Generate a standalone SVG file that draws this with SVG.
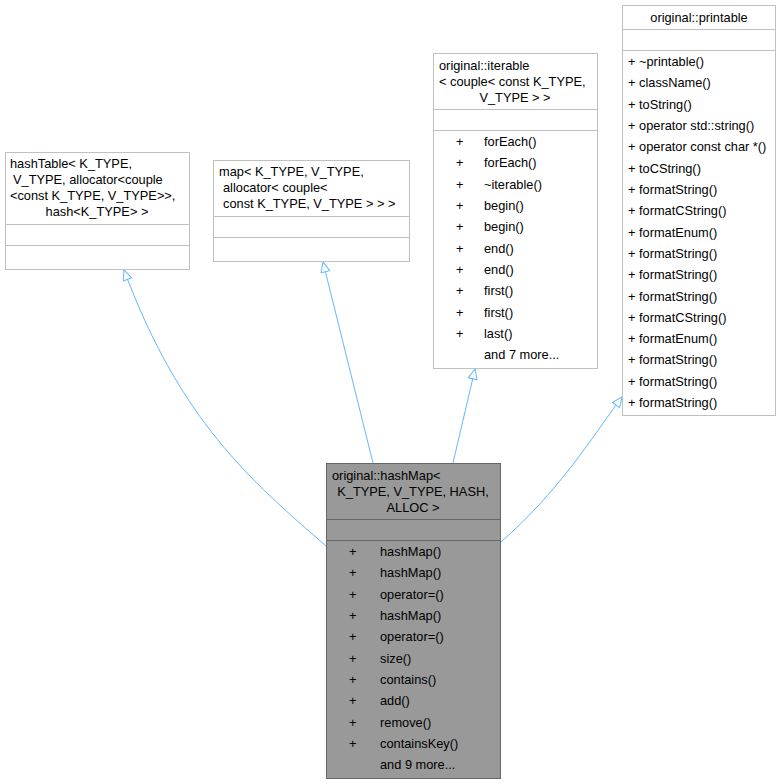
<svg xmlns="http://www.w3.org/2000/svg" width="781" height="784" viewBox="0 0 781 784">
<style>
text{font-family:"Liberation Sans",Arial,sans-serif;font-size:12.8px;fill:#000}
.b{fill:#fff;stroke:#c0c0c0;stroke-width:1}
.m{fill:#999;stroke:#666;stroke-width:1}
.e{fill:none;stroke:#63b8ff;stroke-width:1}
.c{text-anchor:middle}
</style>
<defs>
<marker id="a" viewBox="0 0 12 10" refX="11" refY="5" markerWidth="12" markerHeight="10" markerUnits="userSpaceOnUse" orient="auto">
<path d="M1,0.5 L11,5 L1,9.5 Z" fill="#fff" stroke="#63b8ff"/>
</marker>
</defs>
<rect width="781" height="784" fill="#fff"/>
<g id="connectors">
<path class="e" d="M326,546 C250,480 180,420 124,270" marker-end="url(#a)"/>
<path class="e" d="M373,463 L323,262" marker-end="url(#a)"/>
<path class="e" d="M453,463 L475,369" marker-end="url(#a)"/>
<path class="e" d="M501,542 C560,490 590,440 622,397" marker-end="url(#a)"/>
</g>
<g id="hashTable">
<rect class="b" x="5.5" y="152.5" width="184" height="117"/>
<line class="b" x1="5.5" y1="224.5" x2="189.5" y2="224.5"/>
<line class="b" x1="5.5" y1="245.5" x2="189.5" y2="245.5"/>
<text x="10" y="168">hashTable&lt; K_TYPE,</text>
<text x="13" y="184">V_TYPE, allocator&lt;couple</text>
<text x="10" y="200">&lt;const K_TYPE, V_TYPE&gt;&gt;,</text>
<text x="97" y="216" class="c">hash&lt;K_TYPE&gt; &gt;</text>
</g>
<g id="map">
<rect class="b" x="213.5" y="160.5" width="196" height="101"/>
<line class="b" x1="213.5" y1="216.5" x2="409.5" y2="216.5"/>
<line class="b" x1="213.5" y1="237.5" x2="409.5" y2="237.5"/>
<text x="219" y="176">map&lt; K_TYPE, V_TYPE,</text>
<text x="223" y="192">allocator&lt; couple&lt;</text>
<text x="223" y="208">const K_TYPE, V_TYPE &gt; &gt; &gt;</text>
</g>
<g id="iterable">
<rect class="b" x="433.5" y="53.5" width="164" height="315"/>
<line class="b" x1="433.5" y1="109.5" x2="597.5" y2="109.5"/>
<line class="b" x1="433.5" y1="130.5" x2="597.5" y2="130.5"/>
<text x="439" y="70">original::iterable</text>
<text x="439" y="86">&lt; couple&lt; const K_TYPE,</text>
<text x="515" y="102" class="c">V_TYPE &gt; &gt;</text>
<g>
<text x="456" y="146">+</text><text x="484" y="146">forEach()</text>
<text x="456" y="167">+</text><text x="484" y="167">forEach()</text>
<text x="456" y="189">+</text><text x="484" y="189">~iterable()</text>
<text x="456" y="210">+</text><text x="484" y="210">begin()</text>
<text x="456" y="231">+</text><text x="484" y="231">begin()</text>
<text x="456" y="253">+</text><text x="484" y="253">end()</text>
<text x="456" y="274">+</text><text x="484" y="274">end()</text>
<text x="456" y="295">+</text><text x="484" y="295">first()</text>
<text x="456" y="317">+</text><text x="484" y="317">first()</text>
<text x="456" y="338">+</text><text x="484" y="338">last()</text>
<text x="484" y="359">and 7 more...</text>
</g>
</g>
<g id="printable">
<rect class="b" x="622.5" y="5.5" width="153" height="410"/>
<line class="b" x1="622.5" y1="29.5" x2="775.5" y2="29.5"/>
<line class="b" x1="622.5" y1="50.5" x2="775.5" y2="50.5"/>
<text x="699" y="22" class="c">original::printable</text>
<text x="628" y="66">+ ~printable()</text>
<text x="628" y="87">+ className()</text>
<text x="628" y="109">+ toString()</text>
<text x="628" y="130">+ operator std::string()</text>
<text x="628" y="151">+ operator const char *()</text>
<text x="628" y="173">+ toCString()</text>
<text x="628" y="194">+ formatString()</text>
<text x="628" y="215">+ formatCString()</text>
<text x="628" y="237">+ formatEnum()</text>
<text x="628" y="258">+ formatString()</text>
<text x="628" y="279">+ formatString()</text>
<text x="628" y="301">+ formatString()</text>
<text x="628" y="322">+ formatCString()</text>
<text x="628" y="343">+ formatEnum()</text>
<text x="628" y="364">+ formatString()</text>
<text x="628" y="386">+ formatString()</text>
<text x="628" y="407">+ formatString()</text>
</g>
<g id="hashMap">
<rect class="m" x="326.5" y="463.5" width="174" height="315"/>
<line class="m" x1="326.5" y1="519.5" x2="500.5" y2="519.5"/>
<line class="m" x1="326.5" y1="540.5" x2="500.5" y2="540.5"/>
<text x="332" y="480">original::hashMap&lt;</text>
<text x="413" y="496" class="c">K_TYPE, V_TYPE, HASH,</text>
<text x="413" y="512" class="c">ALLOC &gt;</text>
<text x="349" y="556">+</text><text x="380" y="556">hashMap()</text>
<text x="349" y="577">+</text><text x="380" y="577">hashMap()</text>
<text x="349" y="599">+</text><text x="380" y="599">operator=()</text>
<text x="349" y="620">+</text><text x="380" y="620">hashMap()</text>
<text x="349" y="641">+</text><text x="380" y="641">operator=()</text>
<text x="349" y="663">+</text><text x="380" y="663">size()</text>
<text x="349" y="684">+</text><text x="380" y="684">contains()</text>
<text x="349" y="705">+</text><text x="380" y="705">add()</text>
<text x="349" y="727">+</text><text x="380" y="727">remove()</text>
<text x="349" y="748">+</text><text x="380" y="748">containsKey()</text>
<text x="380" y="769">and 9 more...</text>
</g>
</svg>
